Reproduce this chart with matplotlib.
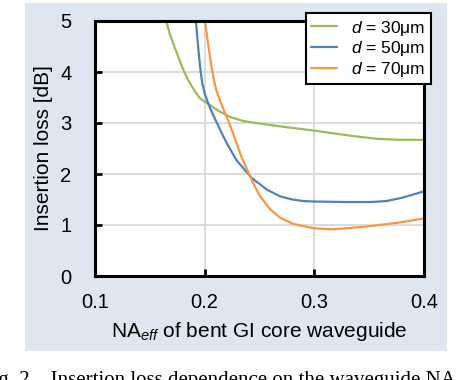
import matplotlib
matplotlib.use("Agg")
import matplotlib.pyplot as plt
from matplotlib.patches import Rectangle

plt.rcParams['font.family'] = ['Liberation Sans', 'DejaVu Sans']
plt.rcParams['mathtext.fontset'] = 'custom'
plt.rcParams['mathtext.rm'] = 'Liberation Sans'
plt.rcParams['mathtext.it'] = 'Liberation Sans:italic'

# d = 30um
x30 = [0.165, 0.168, 0.173, 0.177, 0.181, 0.185, 0.190, 0.193, 0.196, 0.203,
       0.209, 0.214, 0.223, 0.235, 0.250, 0.270, 0.300, 0.333, 0.357, 0.378,
       0.400]
y30 = [5.00, 4.76, 4.46, 4.24, 4.02, 3.84, 3.66, 3.56, 3.48, 3.38,
       3.29, 3.22, 3.12, 3.04, 2.99, 2.93, 2.85, 2.75, 2.69, 2.67,
       2.67]

# d = 50um
x50 = [0.192, 0.193, 0.194, 0.195, 0.1965, 0.198, 0.200, 0.2033, 0.207, 0.211,
       0.214, 0.220, 0.229, 0.243, 0.257, 0.269, 0.280, 0.290, 0.300, 0.332,
       0.351, 0.366, 0.381, 0.400]
y50 = [5.00, 4.75, 4.51, 4.28, 3.98, 3.76, 3.58, 3.38, 3.19, 3.01,
       2.87, 2.61, 2.27, 1.92, 1.69, 1.56, 1.50, 1.47, 1.46, 1.45,
       1.45, 1.47, 1.54, 1.66]

# d = 70um
x70 = [0.2003, 0.2018, 0.2033, 0.2048, 0.2063, 0.2085, 0.2109, 0.214, 0.2164,
       0.2185, 0.222, 0.226, 0.234, 0.243, 0.250, 0.260, 0.269, 0.280, 0.287,
       0.300, 0.317, 0.348, 0.378, 0.400]
y70 = [5.00, 4.76, 4.53, 4.31, 4.10, 3.84, 3.62, 3.44, 3.31,
       3.20, 3.02, 2.79, 2.31, 1.88, 1.58, 1.30, 1.14, 1.03, 0.99,
       0.935, 0.915, 0.97, 1.05, 1.13]

labels = [r'$\mathit{d}$ = 30μm', r'$\mathit{d}$ = 50μm', r'$\mathit{d}$ = 70μm']
colors = ['#9BBB59', '#4F81BD', '#F79646']
xticks = [0.1, 0.2, 0.3, 0.4]
yticks = [0, 1, 2, 3, 4, 5]

W, H = 474, 380
fig = plt.figure(figsize=(W / 100, H / 100), dpi=100)
fig.patch.set_facecolor('white')

# light blue panel behind the chart
fig.add_artist(Rectangle((25 / W, 1 - 351 / H), (447 - 25) / W, (351 - 3) / H,
                         transform=fig.transFigure, facecolor='#dde6f1',
                         edgecolor='none', zorder=0))

ax = fig.add_axes([95 / W, 1 - 276 / H, (424 - 95) / W, (276 - 21) / H])
ax.set_facecolor('white')

for xs, ys, lab, c in zip([x30, x50, x70], [y30, y50, y70], labels, colors):
    ax.plot(xs, ys, color=c, lw=1.6, label=lab, solid_capstyle='round')

ax.set_xlim(0.1, 0.4)
ax.set_ylim(0, 5)
ax.set_xticks(xticks)
ax.set_yticks(yticks)
ax.set_xticklabels(['0.1', '0.2', '0.3', '0.4'])
ax.grid(True, color='#d9d9d9', lw=1.3)
ax.set_axisbelow(True)
for s in ax.spines.values():
    s.set_linewidth(2.2)
    s.set_color('black')
ax.tick_params(direction='in', length=5, width=2, labelsize=14.5,
               colors='black')
ax.tick_params(axis='y', pad=17)
ax.tick_params(axis='x', pad=12)

ax.set_ylabel('Insertion loss [dB]', fontsize=15, labelpad=5)
ax.set_xlabel(r'NA$_{\mathit{eff}}$ of bent GI core waveguide', fontsize=15,
              labelpad=6)

leg = ax.legend(loc='upper right', bbox_to_anchor=(430.7 / W, 1 - 13.3 / H),
                bbox_transform=fig.transFigure, fontsize=12.5, frameon=True,
                fancybox=False, edgecolor='black', framealpha=1,
                borderaxespad=0, borderpad=0.3, handlelength=1.5,
                handletextpad=0.8, labelspacing=0.1)
leg.get_frame().set_linewidth(1.5)
for line in leg.get_lines():
    line.set_linewidth(1.6)

# cut-off caption below the picture
fig.text(-0.04, 1 - 371 / H, 'Fig. 2    Insertion loss dependence on the waveguide NA',
         family=['Liberation Serif', 'DejaVu Serif'], fontsize=15, va='top',
         ha='left')

fig.savefig('out.png', dpi=100)
